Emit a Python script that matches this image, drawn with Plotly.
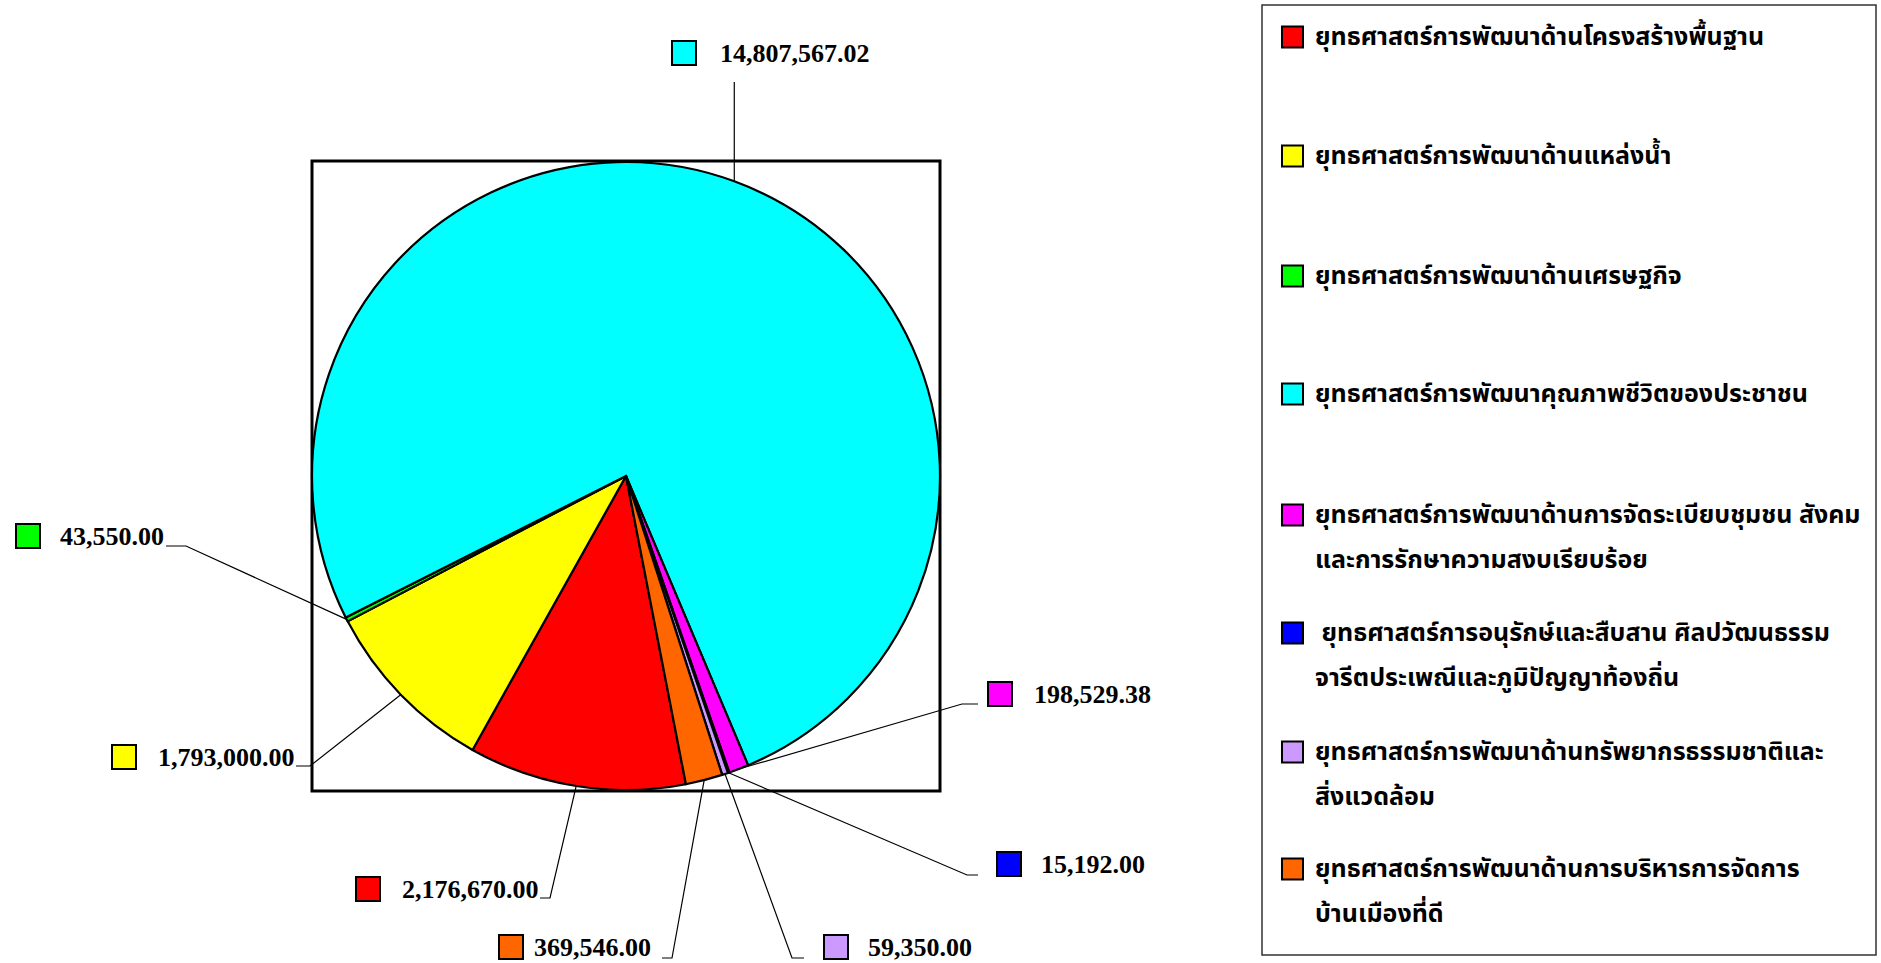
import math
import plotly.graph_objects as go

# ---------------- data ----------------
categories = [
    "ยุทธศาสตร์การพัฒนาด้านโครงสร้างพื้นฐาน",
    "ยุทธศาสตร์การพัฒนาด้านแหล่งน้ำ",
    "ยุทธศาสตร์การพัฒนาด้านเศรษฐกิจ",
    "ยุทธศาสตร์การพัฒนาคุณภาพชีวิตของประชาชน",
    "ยุทธศาสตร์การพัฒนาด้านการจัดระเบียบชุมชน สังคม\nและการรักษาความสงบเรียบร้อย",
    " ยุทธศาสตร์การอนุรักษ์และสืบสาน ศิลปวัฒนธรรม\nจารีตประเพณีและภูมิปัญญาท้องถิ่น",
    "ยุทธศาสตร์การพัฒนาด้านทรัพยากรธรรมชาติและ\nสิ่งแวดล้อม",
    "ยุทธศาสตร์การพัฒนาด้านการบริหารการจัดการ\nบ้านเมืองที่ดี",
]
values = [2176670.00, 1793000.00, 43550.00, 14807567.02, 198529.38, 15192.00, 59350.00, 369546.00]
colors = ["#FF0000", "#FFFF00", "#00FF00", "#00FFFF", "#FF00FF", "#0000FF", "#CC99FF", "#FF6600"]

# ---------------- layout (page pixels, top-left origin) ----------------
W, H = 1881, 963
FRAME = (312, 161, 940, 791)          # x0, y0, x1, y1
ROTATION = 169

# per-slice label layout: (square_x, text_x, y_center, elbow path points)
label_layout = [
    (356, 400, 889, [(550, 898), (540, 898)]),
    (112, 156, 757, [(310, 766), (296, 766)]),
    (16, 58, 536, [(186, 546), (166, 546)]),
    (672, 718, 53, None),
    (988, 1032, 694, [(962, 704), (978, 704)]),
    (997, 1039, 864, [(967, 875), (978, 875)]),
    (824, 866, 947, [(792, 958), (804, 958)]),
    (499, 532, 947, [(672, 958), (662, 958)]),
]
LABEL_SQ = 24
LEGEND_BOX = (1262, 5, 1876, 955)
legend_y = [37, 156, 276, 394, 515, 633, 752, 869]
LEGEND_SQ_X = 1282
LEGEND_SQ = 21
LEGEND_TEXT_X = 1313
LEGEND_LINE_GAP = 45

THAI_FONT = "Noto Sans Thai, Tahoma, Noto Sans, sans-serif"
NUM_FONT = "Liberation Serif, Times New Roman, serif"


def px(x):
    return x / W


def py(y):
    return 1 - y / H


fig = go.Figure()
fig.add_trace(go.Pie(
    labels=[c.replace("\n", "") for c in categories],
    values=values,
    marker=dict(colors=colors, line=dict(color="black", width=2.2)),
    sort=False,
    direction="clockwise",
    rotation=ROTATION,
    textinfo="none",
    hoverinfo="label+value+percent",
    domain=dict(x=[px(FRAME[0]), px(FRAME[2])], y=[py(FRAME[3]), py(FRAME[1])]),
    showlegend=False,
))

shapes = []
annotations = []

# frame around plot area
shapes.append(dict(type="rect", xref="paper", yref="paper",
                   x0=px(FRAME[0]), x1=px(FRAME[2]), y0=py(FRAME[3]), y1=py(FRAME[1]),
                   line=dict(color="black", width=3), layer="below"))

# pie geometry for leader lines
cx = (FRAME[0] + FRAME[2]) / 2
cy = (FRAME[1] + FRAME[3]) / 2
r = min(FRAME[2] - FRAME[0], FRAME[3] - FRAME[1]) / 2
total = sum(values)
cum = 0.0
for i, v in enumerate(values):
    mid = ROTATION + (cum + v / 2) / total * 360
    cum += v
    a = math.radians(mid)
    sx, sy = cx + r * math.sin(a), cy - r * math.cos(a)
    sqx, tx, yc, path = label_layout[i]
    if path is None:
        path = [(sx, 82)]
    pts = [(sx, sy)] + path
    d = "M {} {}".format(px(pts[0][0]), py(pts[0][1]))
    for (qx, qy) in pts[1:]:
        d += " L {} {}".format(px(qx), py(qy))
    shapes.append(dict(type="path", xref="paper", yref="paper", path=d,
                       line=dict(color="black", width=1.2)))
    shapes.append(dict(type="rect", xref="paper", yref="paper",
                       x0=px(sqx), x1=px(sqx + LABEL_SQ),
                       y0=py(yc + LABEL_SQ / 2), y1=py(yc - LABEL_SQ / 2),
                       fillcolor=colors[i], line=dict(color="black", width=2)))
    annotations.append(dict(xref="paper", yref="paper", x=px(tx), y=py(yc),
                            xanchor="left", yanchor="middle", showarrow=False,
                            text="<b>{:,.2f}</b>".format(v),
                            font=dict(family=NUM_FONT, size=26, color="black")))

# legend box
shapes.append(dict(type="rect", xref="paper", yref="paper",
                   x0=px(LEGEND_BOX[0]), x1=px(LEGEND_BOX[2]),
                   y0=py(LEGEND_BOX[3]), y1=py(LEGEND_BOX[1]),
                   line=dict(color="#333333", width=1.5)))
for i, c in enumerate(categories):
    yc = legend_y[i]
    shapes.append(dict(type="rect", xref="paper", yref="paper",
                       x0=px(LEGEND_SQ_X), x1=px(LEGEND_SQ_X + LEGEND_SQ),
                       y0=py(yc + LEGEND_SQ / 2), y1=py(yc - LEGEND_SQ / 2),
                       fillcolor=colors[i], line=dict(color="black", width=2)))
    for j, line in enumerate(c.split("\n")):
        txt = ("&nbsp;" + line[1:]) if line.startswith(" ") else line
        annotations.append(dict(xref="paper", yref="paper", x=px(LEGEND_TEXT_X),
                                y=py(yc + j * LEGEND_LINE_GAP),
                                xanchor="left", yanchor="middle", showarrow=False,
                                text="<b>" + txt + "</b>",
                                font=dict(family=THAI_FONT, size=25, color="black")))

fig.update_layout(
    width=W, height=H,
    margin=dict(l=0, r=0, t=0, b=0),
    paper_bgcolor="white", plot_bgcolor="white",
    shapes=shapes, annotations=annotations,
    showlegend=False,
)

fig.write_html(
    "out.html",
    config={"displayModeBar": False},
    post_script="document.body.style.margin='0';document.body.style.overflow='hidden';",
)
